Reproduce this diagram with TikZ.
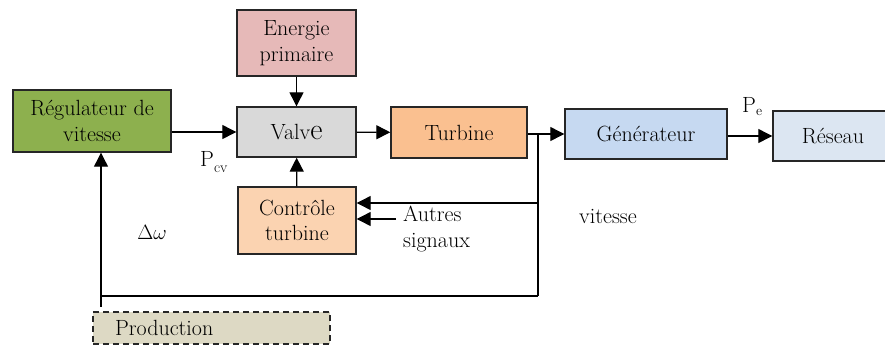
\documentclass[tikz,border=0pt]{standalone}
\usepackage{fontspec}
\usetikzlibrary{arrows.meta}
\definecolor{regfill}{HTML}{8DB04E}
\definecolor{energfill}{HTML}{E6B9B8}
\definecolor{valvefill}{HTML}{D9D9D9}
\definecolor{turbfill}{HTML}{FAC090}
\definecolor{ctrlfill}{HTML}{FBD3B1}
\definecolor{genfill}{HTML}{C6D9F1}
\definecolor{resfill}{HTML}{DCE6F2}
\definecolor{prodfill}{HTML}{DDD9C4}
\tikzset{
  blk/.style={draw=black!85, line width=1.4pt, rectangle, inner sep=0pt,
    align=center, font=\rmfamily\fontsize{22}{25.5}\selectfont},
  flow/.style={line width=1.2pt, -{Triangle[length=14pt,width=14pt]}},
  wire/.style={line width=1.2pt},
  lbl/.style={inner sep=0pt, font=\rmfamily\fontsize{22}{25.5}\selectfont}
}
\begin{document}
\begin{tikzpicture}[x=1pt,y=-1pt]
\useasboundingbox (0,0) rectangle (885,349);

% blocks
\node[blk, fill=regfill, minimum width=158pt, minimum height=62pt] (reg) at (92,121) {Régulateur de\\vitesse};
\node[blk, fill=energfill, minimum width=119pt, minimum height=66pt] (ener) at (296.5,43) {Energie\\primaire};
\node[blk, fill=valvefill, minimum width=119pt, minimum height=50pt] (valve) at (296.5,132) {Valv{\fontsize{30}{30}\selectfont e}};
\node[blk, fill=turbfill, minimum width=136pt, minimum height=51pt] (turb) at (459,132.5) {Turbine};
\node[blk, fill=genfill, minimum width=162pt, minimum height=50pt] (gen) at (646,134) {Générateur};
\node[blk, fill=resfill, minimum width=120pt, minimum height=50pt, text width=120pt] (res) at (833,136) {Réseau};
\node[blk, fill=ctrlfill, minimum width=118pt, minimum height=67pt] (ctrl) at (297,220.5) {Contrôle\\turbine};
\node[blk, fill=prodfill, dashed, dash pattern=on 6pt off 4pt, line width=1.3pt,
      minimum width=237pt, minimum height=32pt, text width=193pt, align=left] (prod) at (211.5,328) {Production};

% forward path
\draw[flow] (reg.east |- valve.west) -- (valve.west);
\draw[flow] (ener) -- (valve);
\draw[flow] (valve) -- (turb);
\draw[flow] (turb.east |- gen.west) -- (gen.west);
\draw[flow] (gen.east |- res.west) -- (res.west);
\draw[flow] (ctrl) -- (valve);

% speed feedback
\coordinate (tap) at (538,134);
\coordinate (corner) at (538,296);
\coordinate (loopleft) at (101,296);
\coordinate (stub) at (101,307);
\draw[wire] (tap) -- (corner);
\draw[line width=2.4pt] (corner) -- (loopleft);
\draw[flow] (loopleft) -- (reg.south -| loopleft);
\draw[wire] (loopleft) -- (stub);
\draw[flow] (tap |- 0,203) -- (ctrl.east |- 0,203);

% other signals
\coordinate (autres) at (396,219);
\draw[flow] (autres) -- (ctrl.east |- autres);

% labels
\node[lbl, anchor=base west] (pcv) at (200,166) {P\raisebox{-6pt}{\fontsize{15}{15}\selectfont cv}};
\node[lbl, anchor=base west] (pe) at (742,112) {P\raisebox{-3pt}{\fontsize{14}{14}\selectfont e}};
\node[lbl] (dw) at (152,232) {$\Delta\omega$};
\node[lbl] (vit) at (608,216) {vitesse};
\node[lbl, anchor=west, align=left] (aut) at (403,229) {Autres\\signaux};
\end{tikzpicture}
\end{document}
